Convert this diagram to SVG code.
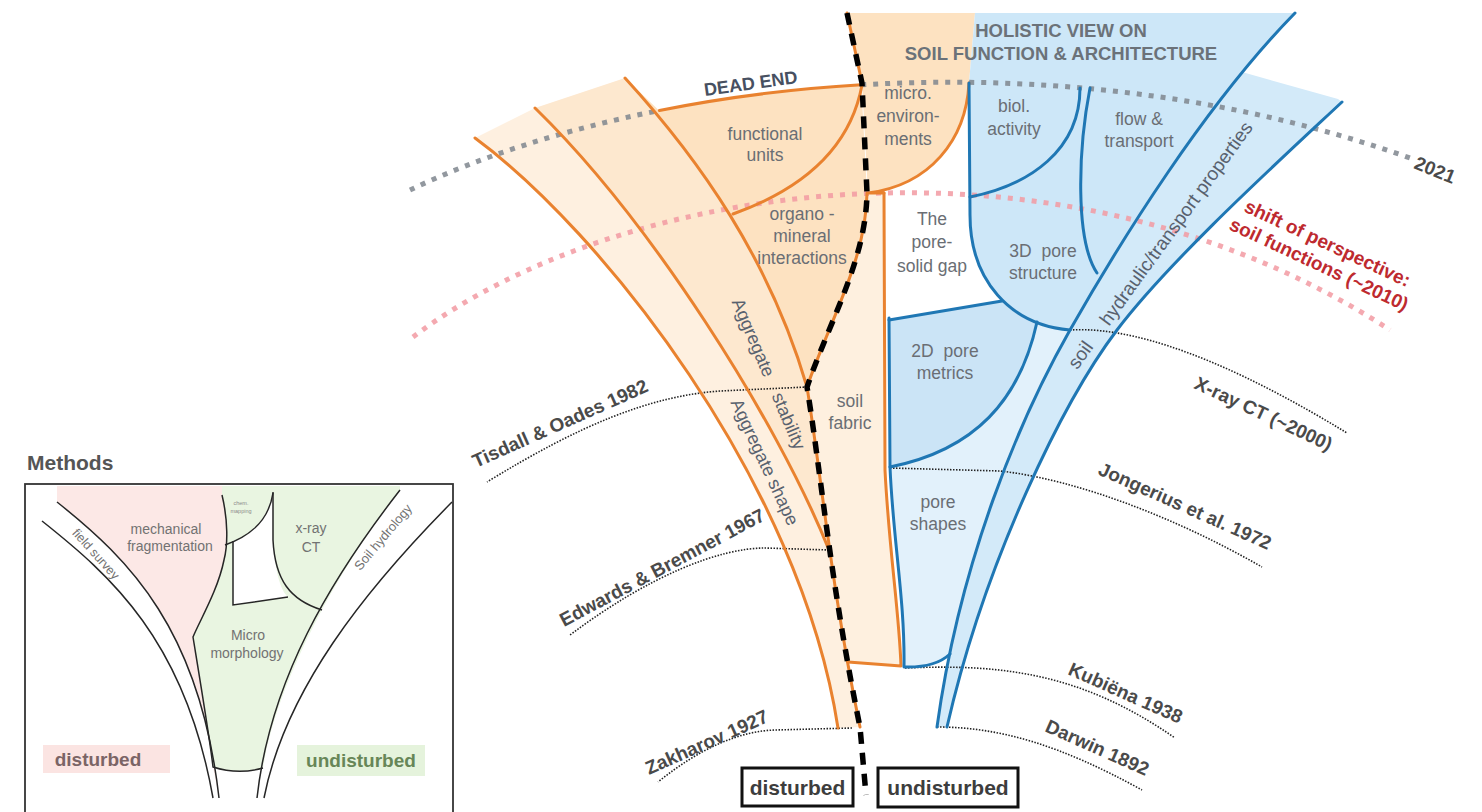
<svg xmlns="http://www.w3.org/2000/svg" width="1482" height="812" viewBox="0 0 1482 812">
<style>
text{font-family:"Liberation Sans",Arial,Helvetica,sans-serif}
.lbl{font-size:17.5px;fill:#6a6e74;text-anchor:middle}
.rot{font-size:18px;fill:#58616e;text-anchor:middle}
.date{font-size:19px;font-weight:bold;fill:#4a4a4a}
.ol{fill:none;stroke:#e9822f;stroke-width:3;stroke-linecap:round;stroke-linejoin:round}
.bl{fill:none;stroke:#1f77b4;stroke-width:3;stroke-linecap:round;stroke-linejoin:round}
.ref{fill:none;stroke:#222;stroke-width:1.6;stroke-dasharray:1.5 1.5}
.gdot{fill:none;stroke:#7f868e;stroke-width:5;stroke-dasharray:5 7;opacity:.85}
.pdot{fill:none;stroke:#f29aa2;stroke-width:5;stroke-dasharray:5 7;opacity:.85}
.dash{fill:none;stroke:#000;stroke-width:5.5;stroke-dasharray:12 9}
.il{fill:none;stroke:#262626;stroke-width:1.5}
.itx{font-size:14px;fill:#727272;text-anchor:middle}
.tiny{font-size:5.5px;fill:#8a8a8a;text-anchor:middle}
.box{fill:#fff;stroke:#111;stroke-width:3}
.btx{font-size:21px;font-weight:bold;fill:#3d3d3d;text-anchor:middle}
</style>

<g id="fills">
  <path id="band-ab" d="M475,138 C600,230 800,480 838,728 L860,727 L852,684 L844,644 L836,589 L829,550 C777,420 650,220 535,108 Z" fill="#fef0e0"/>
  <path id="band-bc" d="M535,108 L625,78 C700,160 770,260 807,387 L820,482 L829,550 C777,420 650,220 535,108 Z" fill="#fde8cf"/>
  <path id="region-functional" d="M659,110.5 C722.9,97.8 790.7,88.9 861.3,84.8 L867,193 C866,260 830,320 807,387 C770,260 700,160 625,78 Z" fill="#fde2c1"/>
  <path id="region-micro" d="M848,13 L975,13 L969,83 C966,140 930,185 868,193 L862,83 Z" fill="#fde2c1"/>
  <path id="region-soilfabric" d="M867,193 L884,193 L885,470 C889,550 899,610 901,666 L848,662 L844,644 L836,589 L828,537 L820,482 L807,387 C830,320 866,260 867,193 Z" fill="#fef0df"/>
  <path id="region-blue" d="M975,13 L1295,13 C1205,105 1120,242 1070,330 C1010,325 970,280 970,215 L969,83 Z" fill="#cde7f8"/>
  <path id="region-band-de" d="M1242,72 L1338,99 L1342,102 C1280,160 1170,260 1117,330 C1064,400 985,560 947,727 L937,727 C960,560 1020,418 1070,330 C1120,242 1205,105 1295,13 Z" fill="#d3eaf9"/>
  <path id="region-2d" d="M889,320 L1002,301 C1013,313 1025,320 1037,322 C1020,400 975,450 890,467 Z" fill="#cbe4f6"/>
  <path id="region-poreshapes" d="M890,467 C893,540 905,600 904,667 Q935,668 950,654 C977.8,518.6 1027.5,404.8 1070,330 C1060,330 1048,327 1037,322 C1020,400 975,450 890,467 Z" fill="#e2f1fb"/>
</g>

<g id="connectors">
  <path class="gdot" d="M410,190 C479,157 564.2,129.4 659.4,110.5"/>
  <path class="gdot" d="M861.3,84.8 C1037.8,74.5 1230,94 1410,158"/>
  <path class="pdot" d="M413,337 C620,180 1060,115 1390,330"/>
  <path class="ref" d="M807,387 L720,391 C650,396 580,425 487,482"/>
  <path class="ref" d="M829,550 L765,548 C720,548 650,575 570,635"/>
  <path class="ref" d="M852,728 L775,730 C740,731 700,748 658,782"/>
  <path class="ref" d="M937,727 C1000,727 1060,745 1142,790"/>
  <path class="ref" d="M905,668 C1000,664 1080,672 1175,738"/>
  <path class="ref" d="M890,468 L1000,471 C1080,480 1180,520 1262,567"/>
  <path class="ref" d="M1070,330 C1150,325 1260,380 1347,433"/>
  <path class="ol" d="M475,138 C600,230 800,480 838,728"/>
  <path class="ol" d="M535,108 C650,220 777,420 829,550"/>
  <path class="ol" d="M625,78 C700,160 770,260 807,387"/>
  <path class="ol" d="M659.4,110.5 C722.9,97.8 790.7,88.9 861.3,84.8" stroke-width="4.5"/>
  <path class="ol" d="M862,85 C850,150 800,190 733,214"/>
  <path class="ol" d="M969,83 C966,140 930,185 868,193 L884,193"/>
  <path class="ol" d="M847,13 L862,83"/>
  <path class="ol" d="M867,193 C866,260 830,320 807,387 C822,480 830,580 860,727"/>
  <path class="ol" d="M884,193 L885,470 C889,550 899,610 901,666 L848,662"/>
  <path class="bl" d="M969,83 L970,215 C970,280 1010,325 1070,330"/>
  <path class="bl" d="M970,197 C1030,185 1080,150 1080,88"/>
  <path class="bl" d="M1090,88 C1078,150 1075,240 1097,273"/>
  <path class="bl" d="M889,320 L1002,301"/>
  <path class="bl" d="M1037,322 C1020,400 975,450 890,467"/>
  <path class="bl" d="M889,318 L890,467 C893,540 905,600 904,667 Q935,668 950,654"/>
  <path class="bl" d="M1295,13 C1205,105 1120,242 1070,330 C1020,418 960,560 937,727"/>
  <path class="bl" d="M1342,102 C1280,160 1170,260 1117,330 C1064,400 985,560 947,727"/>
  <path class="dash" d="M847,13 L862,83 L867,193 C866,260 830,320 807,387 C822,480 830,580 860,727 L866,795"/>
</g>

<g id="title">
  <text x="1061" y="37" font-size="18.5" font-weight="bold" fill="#6b7279" text-anchor="middle">HOLISTIC VIEW ON</text>
  <text x="1061" y="60" font-size="18.5" font-weight="bold" fill="#6b7279" text-anchor="middle">SOIL FUNCTION &amp; ARCHITECTURE</text>
</g>
<g id="dead-end"><text transform="translate(705,96) rotate(-8)" font-size="18" font-weight="bold" fill="#475061">DEAD END</text></g>
<g id="node-functional-units"><text class="lbl" x="765" y="140">functional</text><text class="lbl" x="765" y="161">units</text></g>
<g id="node-micro"><text class="lbl" x="908" y="99">micro.</text><text class="lbl" x="908" y="122">environ-</text><text class="lbl" x="908" y="145">ments</text></g>
<g id="node-organo"><text class="lbl" x="802" y="220">organo -</text><text class="lbl" x="802" y="242">mineral</text><text class="lbl" x="802" y="264">interactions</text></g>
<g id="node-aggregate-stability"><text class="rot" transform="translate(769,374) rotate(67)" dy="0.35em">Aggregate<tspan dx="14"> stability</tspan></text></g>
<g id="node-aggregate-shape"><text class="rot" transform="translate(765,462) rotate(65)" dy="0.35em">Aggregate shape</text></g>
<g id="node-pore-solid-gap"><text class="lbl" x="932" y="225">The</text><text class="lbl" x="932" y="248">pore-</text><text class="lbl" x="932" y="272">solid gap</text></g>
<g id="node-soil-fabric"><text class="lbl" x="850" y="407">soil</text><text class="lbl" x="850" y="429">fabric</text></g>
<g id="node-biol"><text class="lbl" x="1014" y="112">biol.</text><text class="lbl" x="1014" y="135">activity</text></g>
<g id="node-flow"><text class="lbl" x="1139" y="125">flow &amp;</text><text class="lbl" x="1139" y="147">transport</text></g>
<g id="node-3d"><text class="lbl" x="1043" y="257" word-spacing="5">3D pore</text><text class="lbl" x="1043" y="279">structure</text></g>
<g id="node-2d"><text class="lbl" x="945" y="357" word-spacing="5">2D pore</text><text class="lbl" x="945" y="379">metrics</text></g>
<g id="node-pore-shapes"><text class="lbl" x="938" y="508">pore</text><text class="lbl" x="938" y="530">shapes</text></g>
<g id="node-hydraulic"><text class="rot" style="font-size:19px" transform="translate(1160,245) rotate(-54)" dy="0.35em">soil<tspan dx="20"> hydraulic/transport properties</tspan></text></g>

<g id="time-labels">
  <text class="date" transform="translate(476,468) rotate(-24)">Tisdall &amp; Oades 1982</text>
  <text class="date" transform="translate(564,627) rotate(-28)">Edwards &amp; Bremner 1967</text>
  <text class="date" transform="translate(649,775) rotate(-24)">Zakharov 1927</text>
  <text class="date" transform="translate(1193,388) rotate(25)">X-ray CT (~2000)</text>
  <text class="date" transform="translate(1097,474) rotate(24)">Jongerius et al. 1972</text>
  <text class="date" transform="translate(1067,674) rotate(24)">Kubiëna 1938</text>
  <text class="date" transform="translate(1044,731) rotate(24)">Darwin 1892</text>
  <text class="date" transform="translate(1413,168) rotate(22)">2021</text>
  <text transform="translate(1243,211) rotate(25)" font-size="19" font-weight="bold" fill="#be2a2f"><tspan x="0" y="0">shift of perspective:</tspan><tspan x="-6" y="22.6">soil functions (~2010)</tspan></text>
</g>

<g id="node-disturbed"><rect class="box" x="742" y="768" width="111" height="38"/><text class="btx" x="797.5" y="795">disturbed</text></g>
<g id="node-undisturbed"><rect class="box" x="878" y="768" width="140" height="39"/><text class="btx" x="948" y="795">undisturbed</text></g>

<g id="methods-inset">
  <text x="27" y="470" font-size="21" font-weight="bold" fill="#555">Methods</text>
  <path fill="#fce8e6" d="M57,502 C130,560 200,630 219,798 L213,767 C210,740 200,680 193,637 C200,620 218,590 224,560 C228,545 228,520 222,495 L222,486 L57,486 Z"/>
  <path fill="#e9f5e1" d="M222,486 L222,495 C228,520 228,545 224,560 C218,590 200,620 193,637 C200,680 210,740 213,767 Q238,775 263,768 C275,690 330,580 400,490 L400,486 Z"/>
  <path fill="#fff" d="M233,541 C250,535 266,522 273,493 L273,540 C275,570 280,590 288,597 L233,605 Z"/>
  <path class="il" d="M42,521 C110,575 185,640 213,798"/>
  <path class="il" d="M57,502 C130,560 200,630 219,798"/>
  <path class="il" d="M400,490 C330,580 270,680 257,798"/>
  <path class="il" d="M452,502 C365,590 285,690 264,798"/>
  <path class="il" d="M222,495 C228,520 228,545 224,560 C218,590 200,620 193,637 C200,680 210,740 213,767 Q238,775 263,768"/>
  <path class="il" d="M225,545 C245,538 268,525 273,493"/>
  <path class="il" d="M273,492 L273,540 C275,580 290,600 322,610"/>
  <path class="il" d="M233,541 L233,605 L288,597"/>
  <text class="itx" x="166" y="534">mechanical</text>
  <text class="itx" x="170" y="551">fragmentation</text>
  <text class="itx" x="311" y="533">x-ray</text>
  <text class="itx" x="311" y="552">CT</text>
  <text class="itx" x="248" y="640">Micro</text>
  <text class="itx" x="247" y="658">morphology</text>
  <text class="tiny" x="241" y="505">chem.</text>
  <text class="tiny" x="241" y="513">mapping</text>
  <text class="itx" style="font-size:12.5px" transform="translate(96,554) rotate(48)" dy="0.35em">field survey</text>
  <text class="itx" style="font-size:13px" transform="translate(383,537) rotate(-50)" dy="0.35em">Soil hydrology</text>
  <rect x="43" y="745" width="127" height="28" fill="#fbe4e2"/>
  <text x="98" y="766" font-size="19" font-weight="bold" fill="#7b6466" text-anchor="middle">disturbed</text>
  <rect x="297" y="745" width="128" height="31" fill="#e5f3dc"/>
  <text x="361" y="767" font-size="19" font-weight="bold" fill="#678657" text-anchor="middle">undisturbed</text>
  <rect x="25" y="484" width="428" height="340" fill="none" stroke="#333" stroke-width="1.8"/>
</g>
</svg>
